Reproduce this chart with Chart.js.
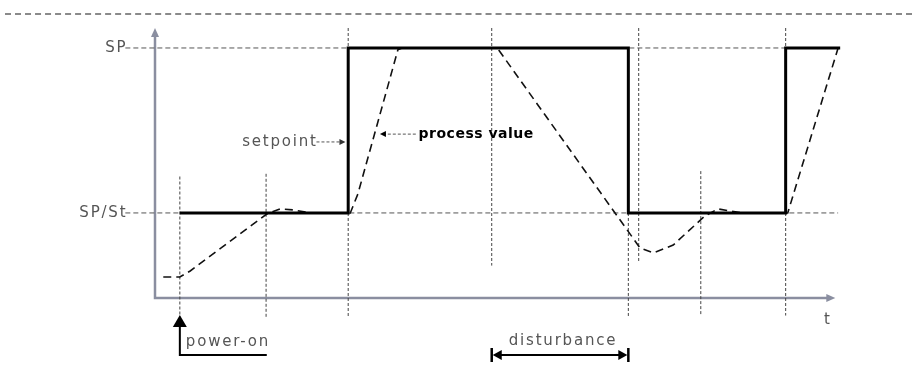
<!DOCTYPE html>
<html>
<head>
<meta charset="utf-8">
<script src="https://cdn.jsdelivr.net/npm/chart.js@4"></script>
<style>
  body { margin: 0; background: #fff; }
  #wrap { position: relative; width: 922px; height: 370px; }
  #rule { position: absolute; left: 5px; top: 13px; width: 907px; border-top: 2px dashed #8a8a8a; }
</style>
</head>
<body>
<div id="wrap">
  <div id="rule"></div>
  <canvas id="chart"></canvas>
</div>
<script>
// time runs 0..100 along the axis, value 0..100 up the axis

const levelNames = ['SP', 'SP/St']
const levelValues = [92.6, 31.5]
const levelFrom = [-4.3, -4.3]
const levelTo = [91.4, 99.0]

// dotted time markers
const markTimes = [3.6, 16.1, 28.0, 48.8, 68.6, 70.1, 79.1, 91.4]
const markTops = [45, 46, 100, 100, 92.6, 100, 47, 100]
const markBottoms = [-7, -7, -7, 12, -7, 13, -6.5, -6.5]

const setpointTimes = [3.6, 28.0, 28.0, 68.6, 68.6, 91.4, 91.4, 99.3]
const setpointValues = [31.5, 31.5, 92.6, 92.6, 31.5, 31.5, 92.6, 92.6]

const processTimes = [1.2, 3.6, 5.1, 16.2, 18.1, 20.1, 22.5, 28.3, 29.4, 35.2, 35.8, 49.6, 70.3, 72.2, 75.1, 79.7, 81.6, 83.3, 85.1, 91.7, 99.0]
const processValues = [7.8, 7.8, 10.0, 31.1, 33.0, 32.6, 31.5, 31.5, 38.5, 91.9, 92.6, 92.6, 18.5, 16.7, 19.6, 30.4, 33.0, 32.2, 31.5, 31.5, 92.6]

const axisEnd = 98.6
const powerOnTime = 3.6
const disturbanceFrom = 48.8
const disturbanceTo = 68.6

const textColor = '#555'
const axisColor = '#8a8ea0'

function pts(xs, ys) {
    return xs.map((t, i) => ({x: t, y: ys[i]}))
}

let datasets = []

datasets.push({
    label: 'setpoint',
    data: pts(setpointTimes, setpointValues),
    borderColor: '#000',
    borderWidth: 3,
    order: 0
})

datasets.push({
    label: 'process value',
    data: pts(processTimes, processValues),
    borderColor: '#111',
    borderWidth: 1.6,
    borderDash: [8, 5],
    order: 1
})

levelValues.forEach((v, i) => {
    datasets.push({
        label: levelNames[i],
        data: [{x: levelFrom[i], y: v}, {x: levelTo[i], y: v}],
        borderColor: '#555',
        borderWidth: 1,
        borderDash: [5, 3],
        order: 2
    })
})

markTimes.forEach((t, i) => {
    datasets.push({
        label: 'mark' + i,
        data: [{x: t, y: markTops[i]}, {x: t, y: markBottoms[i]}],
        borderColor: '#444',
        borderWidth: 1,
        borderDash: [3, 2],
        order: 3
    })
})

datasets.forEach(d => {
    d.showLine = true
    d.pointRadius = 0
    d.fill = false
    d.clip = false
})

function head(ctx, tx, ty, angle, len, half) {
    ctx.save()
    ctx.translate(tx, ty)
    ctx.rotate(angle)
    ctx.beginPath()
    ctx.moveTo(0, 0)
    ctx.lineTo(-len, -half)
    ctx.lineTo(-len, half)
    ctx.closePath()
    ctx.fill()
    ctx.restore()
}

function label(ctx, text, px, py, align, bold) {
    ctx.font = (bold ? 'bold 14px' : '15px') + ' "DejaVu Sans"'
    ctx.letterSpacing = bold ? '0.5px' : '1.8px'
    ctx.fillStyle = bold ? '#000' : textColor
    ctx.textAlign = align
    ctx.textBaseline = 'middle'
    ctx.fillText(text, px, py)
}

const overlay = {
    id: 'overlay',
    beforeDatasetsDraw(chart) {
        const {ctx, chartArea: a, scales: {x}} = chart
        const xEnd = x.getPixelForValue(axisEnd)
        ctx.save()
        ctx.strokeStyle = axisColor
        ctx.fillStyle = axisColor
        ctx.lineWidth = 2.5
        ctx.beginPath()
        ctx.moveTo(a.left, a.top + 6)
        ctx.lineTo(a.left, a.bottom)
        ctx.lineTo(xEnd - 6, a.bottom)
        ctx.stroke()
        head(ctx, a.left, a.top, -Math.PI / 2, 9, 4)
        head(ctx, xEnd, a.bottom, 0, 9, 4)
        ctx.restore()
    },
    afterDatasetsDraw(chart) {
        const {ctx, scales: {x, y}} = chart
        ctx.save()

        // level names
        levelNames.forEach((n, i) => {
            label(ctx, n, x.getPixelForValue(levelFrom[i]) + 2, y.getPixelForValue(levelValues[i]), 'right', false)
        })

        // setpoint pointer
        let sy = y.getPixelForValue(57.8)
        label(ctx, 'setpoint', x.getPixelForValue(23.3) + 2, sy, 'right', false)
        ctx.strokeStyle = '#555'
        ctx.fillStyle = '#333'
        ctx.lineWidth = 1
        ctx.setLineDash([3, 2])
        ctx.beginPath()
        ctx.moveTo(x.getPixelForValue(23.4), sy)
        ctx.lineTo(x.getPixelForValue(27.6) - 5, sy)
        ctx.stroke()
        ctx.setLineDash([])
        head(ctx, x.getPixelForValue(27.6), sy, 0, 6, 3)

        // process value pointer
        let py = y.getPixelForValue(60.7)
        label(ctx, 'process value', x.getPixelForValue(38.2), py, 'left', true)
        ctx.setLineDash([3, 2])
        ctx.beginPath()
        ctx.moveTo(x.getPixelForValue(37.8), py)
        ctx.lineTo(x.getPixelForValue(32.6) + 5, py)
        ctx.stroke()
        ctx.setLineDash([])
        head(ctx, x.getPixelForValue(32.6), py, Math.PI, 6, 3)

        // power-on
        let px = x.getPixelForValue(powerOnTime)
        let tipY = y.getPixelForValue(-6.3)
        let baseY = y.getPixelForValue(-21.1)
        ctx.fillStyle = '#000'
        ctx.strokeStyle = '#000'
        ctx.lineWidth = 2
        head(ctx, px, tipY, -Math.PI / 2, 12, 7)
        ctx.beginPath()
        ctx.moveTo(px, tipY + 10)
        ctx.lineTo(px, baseY)
        ctx.lineTo(x.getPixelForValue(16.2), baseY)
        ctx.stroke()
        label(ctx, 'power-on', px + 6, y.getPixelForValue(-16.3), 'left', false)

        // disturbance
        let d0 = x.getPixelForValue(disturbanceFrom)
        let d1 = x.getPixelForValue(disturbanceTo)
        ctx.fillStyle = '#000'
        ctx.beginPath()
        ctx.moveTo(d0 + 4, baseY)
        ctx.lineTo(d1 - 4, baseY)
        ctx.stroke()
        ctx.lineWidth = 2.5
        ctx.beginPath()
        ctx.moveTo(d0, baseY - 7)
        ctx.lineTo(d0, baseY + 7)
        ctx.moveTo(d1, baseY - 7)
        ctx.lineTo(d1, baseY + 7)
        ctx.stroke()
        head(ctx, d0 + 1, baseY, Math.PI, 9, 5)
        head(ctx, d1 - 1, baseY, 0, 9, 5)
        label(ctx, 'disturbance', (d0 + d1) / 2 + 3, y.getPixelForValue(-15.9), 'center', false)

        // time axis name
        label(ctx, 't', x.getPixelForValue(97.5), y.getPixelForValue(-8.3), 'center', false)

        ctx.restore()
    }
}

const chart = new Chart(document.getElementById('chart'), {
    type: 'scatter',
    data: { datasets: datasets },
    options: {
        responsive: true,
        maintainAspectRatio: false,
        animation: false,
        layout: { padding: { left: 155, right: 77, top: 28, bottom: 72 } },
        plugins: { legend: { display: false }, tooltip: { enabled: false } },
        scales: {
            x: { type: 'linear', min: 0, max: 100, display: false },
            y: { type: 'linear', min: 0, max: 100, display: false }
        }
    },
    plugins: [overlay]
})
</script>
</body>
</html>
